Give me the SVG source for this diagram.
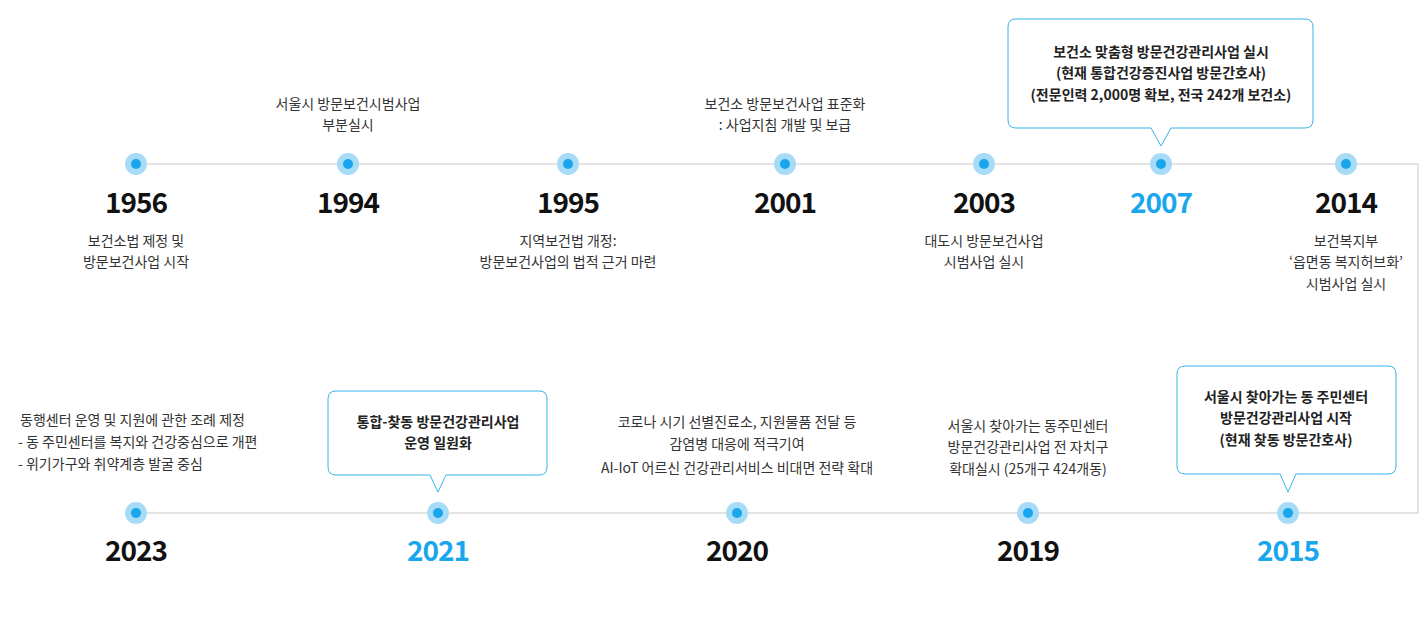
<svg xmlns="http://www.w3.org/2000/svg" width="1419" height="624" viewBox="0 0 1419 624">
<style>
text{font-family:"Noto Sans CJK KR","Noto Sans",sans-serif;fill:#333;font-size:14px;text-anchor:middle}
.y{font-size:28px;font-weight:bold;fill:#111;letter-spacing:-1px}
.b{fill:#1aa6ec}
.bold{font-weight:bold;fill:#222}
.l{text-anchor:start}
.o{fill:#a6dcf7}.i{fill:#1aa6ec}
.bub{fill:#fff;stroke:#33b5e8;stroke-width:1}
</style>
<rect width="1419" height="624" fill="#fff"/>
<g id="connectors"><path d="M136 164H1418V513H136" fill="none" stroke="#c8c8c8" stroke-width="1"/></g>
<g id="dots">
<g id="d1956"><circle cx="136" cy="164" r="11" class="o"/><circle cx="136" cy="164" r="5" class="i"/></g>
<g id="d1994"><circle cx="348" cy="164" r="11" class="o"/><circle cx="348" cy="164" r="5" class="i"/></g>
<g id="d1995"><circle cx="568" cy="164" r="11" class="o"/><circle cx="568" cy="164" r="5" class="i"/></g>
<g id="d2001"><circle cx="785" cy="164" r="11" class="o"/><circle cx="785" cy="164" r="5" class="i"/></g>
<g id="d2003"><circle cx="984" cy="164" r="11" class="o"/><circle cx="984" cy="164" r="5" class="i"/></g>
<g id="d2007"><circle cx="1161" cy="164" r="11" class="o"/><circle cx="1161" cy="164" r="5" class="i"/></g>
<g id="d2014"><circle cx="1346" cy="164" r="11" class="o"/><circle cx="1346" cy="164" r="5" class="i"/></g>
<g id="d2023"><circle cx="136" cy="513" r="11" class="o"/><circle cx="136" cy="513" r="5" class="i"/></g>
<g id="d2021"><circle cx="438" cy="513" r="11" class="o"/><circle cx="438" cy="513" r="5" class="i"/></g>
<g id="d2020"><circle cx="737" cy="513" r="11" class="o"/><circle cx="737" cy="513" r="5" class="i"/></g>
<g id="d2019"><circle cx="1028" cy="513" r="11" class="o"/><circle cx="1028" cy="513" r="5" class="i"/></g>
<g id="d2015"><circle cx="1288" cy="513" r="11" class="o"/><circle cx="1288" cy="513" r="5" class="i"/></g>
</g>
<g id="n1956"><text x="136" y="213" class="y">1956</text><text x="136" y="246">보건소법 제정 및</text><text x="136" y="267">방문보건사업 시작</text></g>
<g id="n1994"><text x="348" y="213" class="y">1994</text><text x="348" y="109">서울시 방문보건시범사업</text><text x="348" y="130">부분실시</text></g>
<g id="n1995"><text x="568" y="213" class="y">1995</text><text x="568" y="246">지역보건법 개정:</text><text x="568" y="267">방문보건사업의 법적 근거 마련</text></g>
<g id="n2001"><text x="785" y="213" class="y">2001</text><text x="785" y="109">보건소 방문보건사업 표준화</text><text x="785" y="130">: 사업지침 개발 및 보급</text></g>
<g id="n2003"><text x="984" y="213" class="y">2003</text><text x="984" y="246">대도시 방문보건사업</text><text x="984" y="267">시범사업 실시</text></g>
<g id="n2007"><text x="1161" y="213" class="y b">2007</text>
<path class="bub" d="M1016 19H1305Q1313 19 1313 27V120Q1313 128 1305 128H1171L1161 146L1151 128H1016Q1008 128 1008 120V27Q1008 19 1016 19Z"/>
<text x="1161" y="57" class="bold">보건소 맞춤형 방문건강관리사업 실시</text><text x="1161" y="78" class="bold">(현재 통합건강증진사업 방문간호사)</text><text x="1161" y="100" class="bold">(전문인력 2,000명 확보, 전국 242개 보건소)</text></g>
<g id="n2014"><text x="1346" y="213" class="y">2014</text><text x="1346" y="246">보건복지부</text><text x="1346" y="267">‘읍면동 복지허브화’</text><text x="1346" y="289">시범사업 실시</text></g>
<g id="n2023"><text x="136" y="561" class="y">2023</text><text x="20" y="425" class="l">동행센터 운영 및 지원에 관한 조례 제정</text><text x="18" y="447" class="l">- 동 주민센터를 복지와 건강중심으로 개편</text><text x="18" y="469" class="l">- 위기가구와 취약계층 발굴 중심</text></g>
<g id="n2021"><text x="438" y="561" class="y b">2021</text>
<path class="bub" d="M336 391H539Q547 391 547 399V467Q547 475 539 475H446L438 492L430 475H336Q328 475 328 467V399Q328 391 336 391Z"/>
<text x="438" y="427" class="bold">통합-찾동 방문건강관리사업</text><text x="438" y="448" class="bold">운영 일원화</text></g>
<g id="n2020"><text x="737" y="561" class="y">2020</text><text x="737" y="427">코로나 시기 선별진료소, 지원물품 전달 등</text><text x="737" y="449">감염병 대응에 적극기여</text><text x="737" y="473">AI-IoT 어르신 건강관리서비스 비대면 전략 확대</text></g>
<g id="n2019"><text x="1028" y="561" class="y">2019</text><text x="1028" y="431">서울시 찾아가는 동주민센터</text><text x="1028" y="452">방문건강관리사업 전 자치구</text><text x="1028" y="474">확대실시 (25개구 424개동)</text></g>
<g id="n2015"><text x="1288" y="561" class="y b">2015</text>
<path class="bub" d="M1185 366H1388Q1396 366 1396 374V466Q1396 474 1388 474H1296L1288 492L1280 474H1185Q1177 474 1177 466V374Q1177 366 1185 366Z"/>
<text x="1286" y="402" class="bold">서울시 찾아가는 동 주민센터</text><text x="1286" y="423" class="bold">방문건강관리사업 시작</text><text x="1286" y="445" class="bold">(현재 찾동 방문간호사)</text></g>
</svg>
